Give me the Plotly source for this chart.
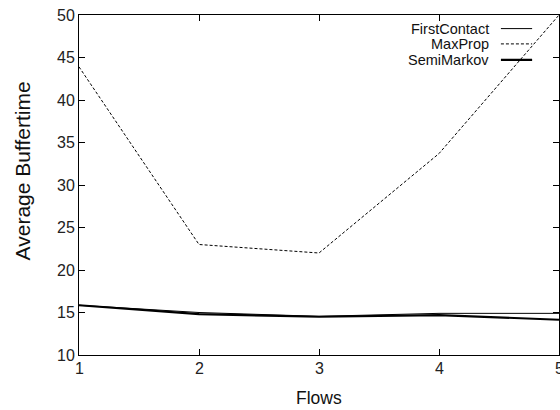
import plotly.graph_objects as go

# Average buffer time per number of flows, for three routing protocols
flows = [1, 2, 3, 4, 5]
first_contact = [15.85, 15.0, 14.55, 14.9, 14.9]
max_prop = [43.9, 23.0, 22.0, 33.7, 50.0]
semi_markov = [15.85, 14.8, 14.5, 14.7, 14.15]

series_names = ["FirstContact", "MaxProp", "SemiMarkov"]
x_ticks = [1, 2, 3, 4, 5]
y_ticks = [10, 15, 20, 25, 30, 35, 40, 45, 50]

FONT = "Liberation Sans, Arial, sans-serif"

styles = {
    "FirstContact": dict(color="black", width=1, dash="solid"),
    "MaxProp": dict(color="black", width=1, dash="3px,2px"),
    "SemiMarkov": dict(color="black", width=2.2, dash="solid"),
}
values = {"FirstContact": first_contact, "MaxProp": max_prop, "SemiMarkov": semi_markov}

fig = go.Figure()
for name in series_names:
    fig.add_trace(go.Scatter(x=flows, y=values[name], mode="lines", name=name,
                             line=styles[name], showlegend=False))

# key in the top-right corner: label, then a short line sample to its right
key_rows = [0.960, 0.915, 0.868]
for name, yk in zip(series_names, key_rows):
    fig.add_annotation(x=0.858, y=yk, xref="paper", yref="paper", text=name,
                       showarrow=False, xanchor="right", yanchor="middle",
                       font=dict(family=FONT, size=14.5, color="#111"))
    fig.add_shape(type="line", xref="paper", yref="paper", x0=0.879, x1=0.944, y0=yk, y1=yk,
                  line=styles[name])

# x tick labels as annotations so the last one is still drawn at the page edge
for v in x_ticks:
    fig.add_annotation(x=v, y=0, xref="x", yref="paper", text=str(v), showarrow=False,
                       xanchor="center", yanchor="top", yshift=-3,
                       font=dict(family=FONT, size=16, color="#222"))

# axis titles
fig.add_annotation(x=0.5, y=0, xref="paper", yref="paper", text="Flows", showarrow=False,
                   xanchor="center", yanchor="middle", yshift=-43,
                   font=dict(family=FONT, size=17.5, color="#111"))
fig.add_annotation(x=0, y=0.54, xref="paper", yref="paper", text="Average Buffertime",
                   showarrow=False, textangle=-90, xanchor="center", yanchor="middle",
                   xshift=-57, font=dict(family=FONT, size=21, color="#111"))

axis_common = dict(showgrid=False, zeroline=False, showline=True, linecolor="black", linewidth=1,
                   mirror="allticks", ticks="inside", ticklen=6, tickcolor="black", tickwidth=1,
                   tickfont=dict(family=FONT, size=16, color="#222"))

fig.update_layout(
    width=560, height=410,
    margin=dict(l=79, r=1, t=15, b=55),
    paper_bgcolor="white", plot_bgcolor="white",
    xaxis=dict(range=[1, 5], tickvals=x_ticks, showticklabels=False, **axis_common),
    yaxis=dict(range=[10, 50], tickvals=y_ticks, ticktext=[str(v) for v in y_ticks],
               **axis_common),
)

fig.write_html("out.html")
